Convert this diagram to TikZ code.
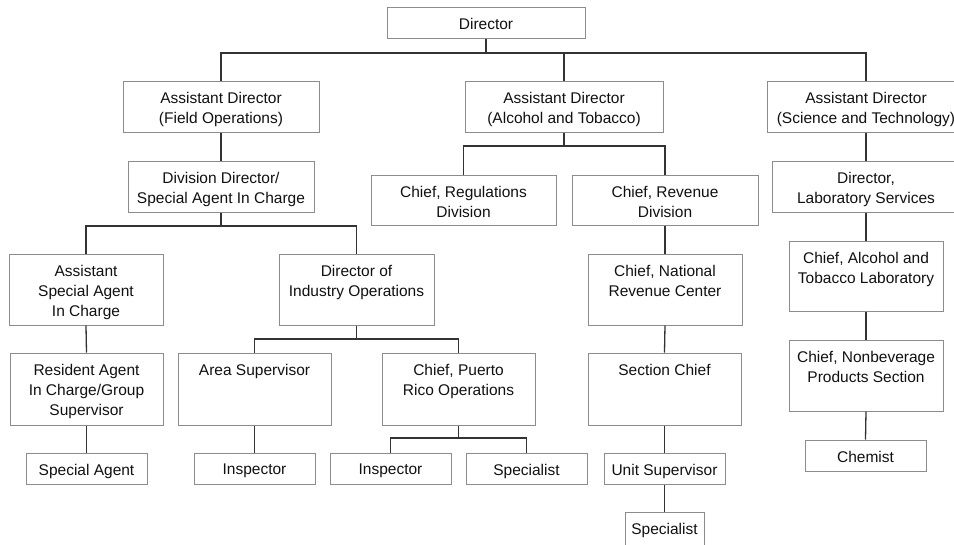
\documentclass[tikz,border=0pt]{standalone}
\usepackage{fontspec}
\setmainfont{Liberation Sans}
\definecolor{boxgray}{HTML}{8C8C8C}
\definecolor{linegray}{HTML}{333333}
\definecolor{txtcol}{HTML}{111111}
\tikzset{
  obox/.style={draw=boxgray, line width=1pt, inner sep=0pt, fill=white},
  otxt/.style={inner sep=0pt, align=center, text=txtcol, anchor=north,
    font={\fontsize{15.5}{20}\selectfont}},
  conn/.style={draw=linegray, line width=1.3pt},
}
\newcommand\obx[6]{%
  \node[obox, minimum width={#4pt-#2pt}, minimum height={#5pt-#3pt}] (#1) at ({(#2+#4)/2},{(#3+#5)/2}) {};
  \node[otxt] (#1-t) at ({(#2+#4)/2},{#3+11}) {#6};
}
\begin{document}
\begin{tikzpicture}[x=1pt,y=-1pt]
\useasboundingbox (0,0) rectangle (954,544);
\clip (0,0) rectangle (954,544);
\fill[white] (0,0) rectangle (954,544);
% boxes
\obx{dir}{387}{7}{585}{38}{Director}
\obx{adf}{123}{81}{319}{132}{Assistant Director\\(Field Operations)}
\obx{ada}{465}{81}{663}{132}{Assistant Director\\(Alcohol and Tobacco)}
\obx{ads}{767}{81}{965}{132}{Assistant Director\\(Science and Technology)}
\obx{dd}{128}{161}{314}{212}{Division Director/\\Special Agent In Charge}
\obx{asac}{9}{254}{163}{325}{Assistant\\Special Agent\\In Charge}
\obx{dio}{279}{254}{434}{325}{Director of\\Industry Operations}
\obx{rai}{10}{353}{163}{425}{Resident Agent\\In Charge/Group\\Supervisor}
\obx{sa}{26}{453}{147}{484}{Special Agent}
\obx{as}{178}{353}{331}{425}{Area Supervisor}
\obx{insa}{194}{453}{315}{484}{Inspector}
\obx{cpr}{382}{353}{535}{425}{Chief, Puerto\\Rico Operations}
\obx{insb}{330}{453}{451}{484}{Inspector}
\obx{spa}{466}{453}{587}{484}{Specialist}
\obx{creg}{371}{175}{556}{225}{Chief, Regulations\\Division}
\obx{crev}{572}{175}{758}{225}{Chief, Revenue\\Division}
\obx{cnrc}{588}{254}{742}{325}{Chief, National\\Revenue Center}
\obx{sc}{588}{353}{741}{425}{Section Chief}
\obx{us}{604}{453}{725}{484}{Unit Supervisor}
\obx{spb}{625}{512}{704}{560}{Specialist}
\obx{dls}{772}{161}{960}{212}{Director,\\Laboratory Services}
\obx{cal}{789}{241}{943}{311}{Chief, Alcohol and\\Tobacco Laboratory}
\obx{cnb}{789}{340}{943}{411}{Chief, Nonbeverage\\Products Section}
\obx{chem}{805}{440}{926}{471}{Chemist}
% bus junctions
\coordinate (j0) at (486,53);
\coordinate (j1) at (221,226);
\coordinate (j2) at (356.5,339);
\coordinate (j3) at (458.5,438);
\coordinate (j4) at (564,146);
% connectors
\draw[conn] (dir.south) -- (j0);
\draw[conn] (j0) -| (adf.north);
\draw[conn] (j0) -| (ada.north);
\draw[conn] (j0) -| (ads.north);
\draw[conn] (adf.south) -- (dd.north);
\draw[conn] (dd.south) -- (j1);
\draw[conn] (j1) -| (asac.north);
\draw[conn] (j1) -| (dio.north);
\draw[conn] (asac.south) -- (rai.north);
\draw[conn] (rai.south) -- (sa.north);
\draw[conn] (dio.south) -- (j2);
\draw[conn] (j2) -| (as.north);
\draw[conn] (j2) -| (cpr.north);
\draw[conn] (as.south) -- (insa.north);
\draw[conn] (cpr.south) -- (j3);
\draw[conn] (j3) -| (insb.north);
\draw[conn] (j3) -| (spa.north);
\draw[conn] (ada.south) -- (j4);
\draw[conn] (j4) -| (creg.north);
\draw[conn] (j4) -| (crev.north);
\draw[conn] (crev.south) -- (cnrc.north);
\draw[conn] (cnrc.south) -- (sc.north);
\draw[conn] (sc.south) -- (us.north);
\draw[conn] (us.south) -- (spb.north);
\draw[conn] (ads.south) -- (dls.north);
\draw[conn] (dls.south) -- (cal.north);
\draw[conn] (cal.south) -- (cnb.north);
\draw[conn] (cnb.south) -- (chem.north);
\end{tikzpicture}
\end{document}
